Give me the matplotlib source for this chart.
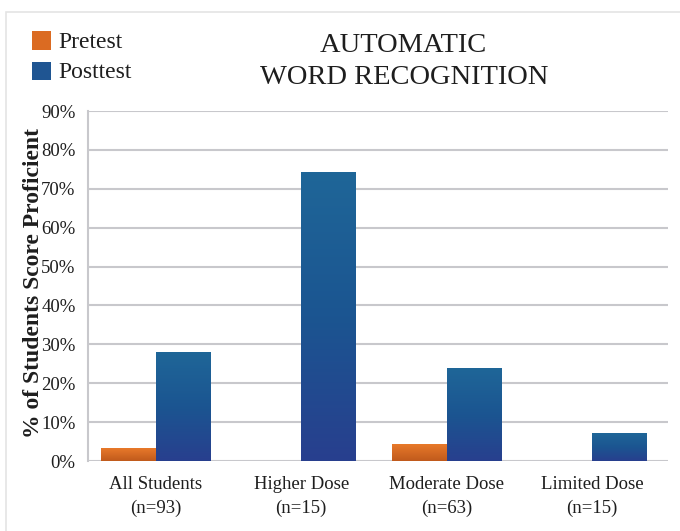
import numpy as np
import matplotlib.pyplot as plt
from matplotlib.colors import LinearSegmentedColormap
from matplotlib.patches import Rectangle

groups = ["All Students\n(n=93)", "Higher Dose\n(n=15)", "Moderate Dose\n(n=63)", "Limited Dose\n(n=15)"]
pretest = [3.3, 0, 4.3, 0]
posttest = [28.0, 74.3, 23.8, 7.2]
yticks = [0, 10, 20, 30, 40, 50, 60, 70, 80, 90]

plt.rcParams['font.family'] = ['Liberation Serif', 'DejaVu Serif']

fig = plt.figure(figsize=(6.8, 5.31), dpi=100)
ax = fig.add_axes([88 / 680, 1 - 461 / 531, 580 / 680, 350 / 531])

x = np.arange(len(groups))
w = 0.378
b1 = ax.bar(x - w / 2, pretest, w, color="none", zorder=3)
b2 = ax.bar(x + w / 2, posttest, w, color="none", zorder=3)

orange = LinearSegmentedColormap.from_list("o", ["#C05A1C", "#E8792A"])
blue = LinearSegmentedColormap.from_list("b", ["#283F8E", "#1B5591", "#1F6698"])
grad = np.linspace(0, 1, 256).reshape(-1, 1)

# fill each bar with a vertical gradient
for bars, cmap in [(b1, orange), (b2, blue)]:
    for r in bars:
        if r.get_height() <= 0:
            continue
        x0, y0 = r.get_x(), r.get_y()
        ax.imshow(grad, cmap=cmap, origin="lower", aspect="auto",
                  extent=(x0, x0 + r.get_width(), y0, y0 + r.get_height()), zorder=3)

ax.set_xlim(-0.468, 3.524)
ax.set_ylim(0, 90)
ax.set_yticks(yticks)
ax.set_yticklabels([f"{t}%" for t in yticks], fontsize=13.5, color="#1E1E1E")
ax.set_xticks(x)
ax.set_xticklabels(groups, fontsize=13.5, color="#1E1E1E", linespacing=1.45)
ax.tick_params(length=0)
ax.tick_params(axis="y", pad=9)
ax.tick_params(axis="x", pad=11)
ax.yaxis.grid(True, color="#C8C8CC", linewidth=1.5, zorder=0)
ax.set_axisbelow(True)
for s in ["top", "right", "bottom"]:
    ax.spines[s].set_visible(False)
ax.spines["left"].set_color("#C8C8CC")
ax.spines["left"].set_linewidth(1.5)

ax.set_ylabel("% of Students Score Proficient", fontsize=17, fontweight="bold",
              color="#1E1E1E")
ax.yaxis.set_label_coords(-44 / 580, 0.51)

fig.text(403 / 680, 1 - 45 / 531, "AUTOMATIC", ha="center", va="center", fontsize=20.5, color="#1E1E1E")
fig.text(404 / 680, 1 - 78 / 531, "WORD RECOGNITION", ha="center", va="center", fontsize=20.5, color="#1E1E1E")

# legend
fig.patches.append(Rectangle((32 / 680, 1 - 50 / 531), 19 / 680, 19 / 531, transform=fig.transFigure,
                             facecolor="#DB6B22", edgecolor="none"))
fig.patches.append(Rectangle((32 / 680, 1 - 80 / 531), 19 / 680, 18 / 531, transform=fig.transFigure,
                             facecolor="#1F5592", edgecolor="none"))
fig.text(58 / 680, 1 - 43 / 531, "Pretest", va="center", fontsize=17, color="#1E1E1E")
fig.text(58 / 680, 1 - 73 / 531, "Posttest", va="center", fontsize=17, color="#1E1E1E")

# page frame
fig.patches.append(Rectangle((6 / 680, -0.01), 1.0, 1 - 12 / 531 + 0.01, transform=fig.transFigure,
                             facecolor="none", edgecolor="#E4E4E4", linewidth=1.2))

fig.savefig("out.png", dpi=100)
